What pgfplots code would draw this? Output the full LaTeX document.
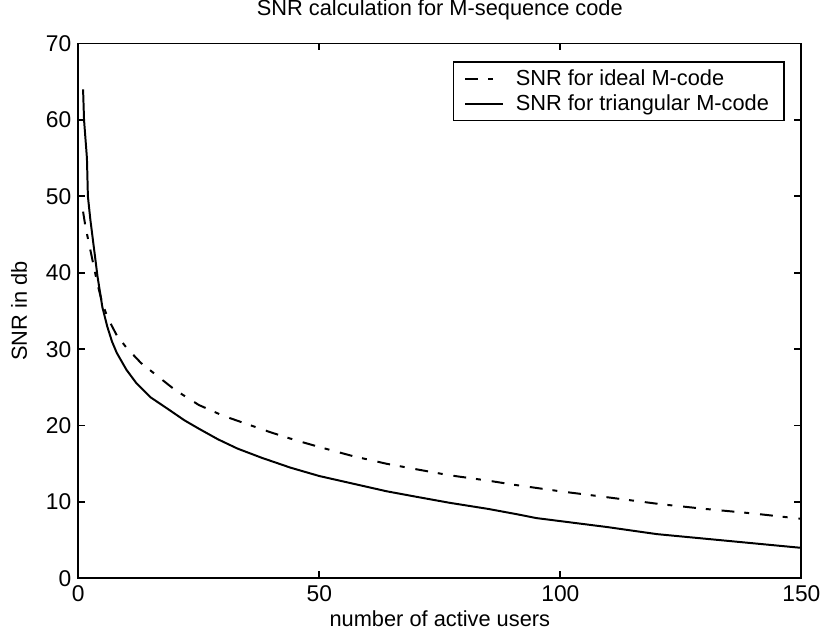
\documentclass[border=0pt]{standalone}
\usepackage{pgfplots}
\pgfplotsset{compat=1.18}
\usepackage{fontspec}
\setmainfont{Liberation Sans}
\begin{document}
\begin{tikzpicture}
\begin{axis}[
  scale only axis,
  width=365pt, height=270pt,
  xmin=0, xmax=150, ymin=0, ymax=70,
  xtick={0,50,100,150}, ytick={0,10,...,70},
  tick pos=both, tick align=inside,
  major tick length=3.5pt,
  axis line style={line width=1pt},
  every tick/.style={black, line width=0.9pt},
  font=\fontsize{11}{13.2}\selectfont,
  tick label style={font=\fontsize{11.5}{13.8}\selectfont},
  /pgf/number format/assume math mode=true,
  title={SNR calculation for M-sequence code},
  title style={at={(axis description cs:0.5,1.0296)}, anchor=base, inner sep=0pt},
  xlabel={number of active users},
  xlabel style={at={(axis description cs:0.5,-0.0907)}, anchor=base, inner sep=0pt},
  ylabel={SNR in db},
  ylabel style={at={(axis description cs:-0.0712,0.5)}, anchor=base, inner sep=0pt},
  legend style={at={(axis description cs:0.977,0.967)}, anchor=north east,
    draw=black, line width=0.9pt, inner xsep=5.5pt, inner ysep=1.8pt,
    cells={anchor=west}, row sep=-1pt,
    font=\fontsize{11}{13.2}\selectfont},
  legend image code/.code={\draw[#1] (0pt,0pt) -- (19pt,0pt); \path (23pt,0pt);},
]
\addplot[black, line width=1pt, dash pattern=on 6.5pt off 5pt on 2.5pt off 5.5pt] coordinates {
(1,48) (1.5,46) (2,44.5) (3,41.5) (4,38.5) (5,36) (6,34.3) (7,33) (8,31.8)
(10,30.2) (13,28.2) (16,26.7) (20,24.7) (25,22.7) (30,21.3) (35,20.2) (40,19.1)
(45,18.1) (50,17.2) (57,16.0) (64,15.0) (70,14.3) (77,13.5) (85,12.8) (91,12.2)
(100,11.4) (110,10.6) (121,9.7) (130,9.1) (140,8.5) (150,7.8)
};
\addlegendentry{SNR for ideal M-code}
\addplot[black, line width=1pt] coordinates {
(1,64) (1.2,60) (1.8,55) (2,50) (2.5,47) (3,44.5) (4,39.5) (5,35.5) (6,33) (7,31)
(8,29.5) (10,27.3) (12,25.6) (15,23.7) (19,22.0) (22,20.7) (25,19.6) (29,18.2)
(33,17.0) (38,15.8) (44,14.5) (50,13.4) (57,12.4) (64,11.4) (70,10.7) (77,9.9)
(85,9.1) (91,8.4) (95,7.9) (100,7.5) (110,6.7) (120,5.8) (130,5.2) (140,4.6) (150,4.0)
};
\addlegendentry{SNR for triangular M-code}
\end{axis}
\path ([xshift=-39.5pt,yshift=-28.5pt]current axis.south west) rectangle ([xshift=9pt,yshift=21.5pt]current axis.north east);
\end{tikzpicture}
\end{document}
